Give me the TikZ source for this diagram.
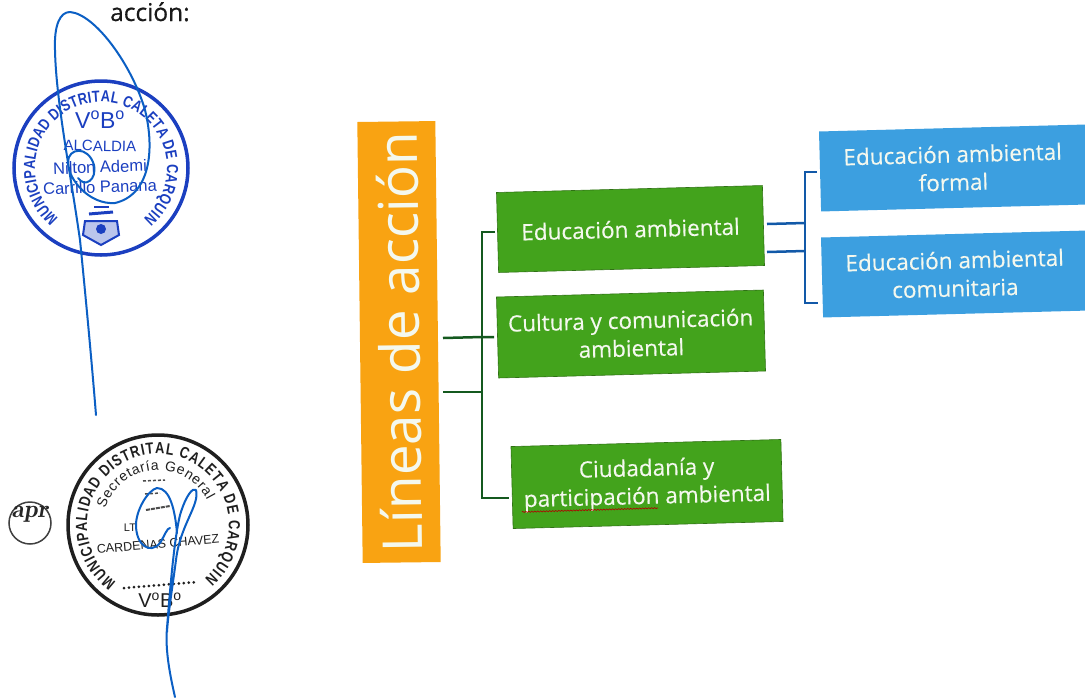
\documentclass[tikz,border=0pt]{standalone}
\usepackage{fontspec}
\setmainfont{Open Sans}
\setsansfont{Liberation Sans}
\newfontfamily\stampnarrow[FakeStretch=0.8]{Liberation Sans}
\usetikzlibrary{decorations.text,decorations.pathmorphing}
\definecolor{boxgreen}{HTML}{43A31C}
\definecolor{boxorange}{HTML}{F9A312}
\definecolor{boxblue}{HTML}{3C9FE0}
\definecolor{linkgreen}{HTML}{14591F}
\definecolor{linkblue}{HTML}{1259A8}
\definecolor{stampblue}{HTML}{1B3FC0}
\definecolor{penblue}{HTML}{0B5FC4}
\definecolor{txtwhite}{HTML}{F4F8EE}
\tikzset{
  x=1pt,y=-1pt,
  lbox/.style={inner sep=0pt,align=center,text=txtwhite,rotate=1.5,
    font=\addfontfeature{FakeBold=0.3}\fontsize{22.5}{28}\selectfont},
  greenbox/.style={lbox,fill=boxgreen,draw=boxgreen!70!black,line width=.6pt},
  bluebox/.style={lbox,fill=boxblue,text=txtwhite},
  greenlink/.style={draw=linkgreen,line width=2.5pt},
  bluelink/.style={draw=linkblue,line width=2.5pt},
  pen/.style={draw=penblue,line width=2pt,line cap=round,line join=round},
  stampone/.style={text=stampblue,font=\sffamily},
  stamptwo/.style={text=black!88,font=\sffamily},
}
\begin{document}
\begin{tikzpicture}
\useasboundingbox (0,0) rectangle (1085,697);
\clip (0,0) rectangle (1085,697);
\fill[white] (0,0) rectangle (1085,697);

% heading fragment
\node[inner sep=0pt,anchor=base west,font=\addfontfeature{FakeBold=0.6}\fontsize{24.5}{28}\selectfont,text=black!90] (head) at (110,21) {acción:};

% main boxes
\node[rotate=90.7,inner sep=0pt,fill=boxorange,minimum width=441pt,minimum height=78pt,text=txtwhite,font=\fontsize{55}{60}\selectfont] (lineas) at (399,342) {Líneas de acción};
\node[greenbox,minimum width=266pt,minimum height=80pt] (edu) at (630.5,229) {Educación ambiental};
\node[greenbox,minimum width=267pt,minimum height=81pt] (cul) at (631,334) {Cultura y comunicación\\ambiental};
\node[greenbox,minimum width=270pt,minimum height=82pt] (ciu) at (647,484) {Ciudadanía y\\participación ambiental};
\node[bluebox,minimum width=266pt,minimum height=80pt] (bf) at (953,168) {Educación ambiental\\formal};
\node[bluebox,minimum width=266pt,minimum height=80pt] (bc) at (955,274) {Educación ambiental\\comunitaria};

% red spell-check underline
\coordinate (sqa) at (522,512);
\coordinate (sqb) at (658,508);
\draw[red!70!black,line width=.6pt,decorate,decoration={zigzag,segment length=3pt,amplitude=.6pt}] (sqa) -- (sqb);

% green bracket
\coordinate (gt) at (482,232);
\coordinate (gb) at (482,498);
\coordinate (gm1) at (482,337);
\coordinate (gm2) at (482,392);
\coordinate (le1) at (443,338);
\coordinate (le2) at (443,392);
\coordinate (ge) at (495,232);
\coordinate (gc) at (494,337);
\coordinate (gi) at (509,498);
\draw[greenlink] (ge) -- (gt) -- (gb) -- (gi);
\draw[greenlink] (le1) -- (gm1) -- (gc);
\draw[greenlink] (le2) -- (gm2);

% blue bracket
\coordinate (bt) at (805,172);
\coordinate (bb) at (805,303);
\coordinate (bm1) at (805,223);
\coordinate (bm2) at (805,251);
\coordinate (ed1) at (767,224);
\coordinate (ed2) at (767,252);
\coordinate (bfe) at (817,172);
\coordinate (bce) at (818,303);
\draw[bluelink] (bfe) -- (bt) -- (bb) -- (bce);
\draw[bluelink] (ed1) -- (bm1);
\draw[bluelink] (ed2) -- (bm2);

% stamp 1
\draw[draw=stampblue,line width=3.5pt] (101,168) circle[radius=87];
\path[decorate,decoration={text along path,text align=fit to path,
  text={|\stampnarrow\bfseries\fontsize{16}{16}\selectfont\color{stampblue}|MUNICIPALIDAD DISTRITAL CALETA DE CARQUIN}}]
  (101,168) ++(130:66) arc[start angle=130,end angle=410,radius=66];
\node[stampone,font=\sffamily\fontsize{23}{23}\selectfont,inner sep=0pt] (vb1) at (100,120) {V\textsuperscript{o}B\textsuperscript{o}};
\node[stampone,font=\sffamily\fontsize{15}{15}\selectfont,inner sep=0pt,rotate=-1] (al1) at (100,146) {ALCALDIA};
\node[stampone,font=\sffamily\fontsize{16.5}{16.5}\selectfont,inner sep=0pt,rotate=2] (ni1) at (100,167) {Nilton Ademi};
\node[stampone,font=\sffamily\fontsize{16.5}{16.5}\selectfont,inner sep=0pt,rotate=2] (ca1) at (100,187) {Carrillo Panana};
% crest
\draw[draw=stampblue,line width=2pt,fill=stampblue!30] (85,221) -- (117,221) -- (119,235) -- (101,245) -- (83,235) -- cycle;
\draw[draw=stampblue,line width=3pt] (89,214) -- (113,212);
\draw[draw=stampblue,line width=2.5pt] (94,207) -- (109,207);
\fill[stampblue] (101,229) circle[radius=5];
% pen signature 1
\draw[pen] (96,415) .. controls (92,365) and (86,300) .. (80,240)
  .. controls (70,170) and (56,100) .. (55,50)
  .. controls (54,25) and (60,12) .. (70,12)
  .. controls (95,14) and (132,65) .. (145,110)
  .. controls (155,150) and (150,195) .. (115,203)
  .. controls (90,205) and (68,180) .. (68,162)
  .. controls (68,148) and (88,145) .. (94,165)
  .. controls (97,180) and (85,188) .. (78,178);

% stamp 2
\draw[draw=black!88,line width=3.5pt] (158,525) circle[radius=90];
\path[decorate,decoration={text along path,text align=fit to path,
  text={|\stampnarrow\bfseries\fontsize{16}{16}\selectfont\color{black!88}|MUNICIPALIDAD DISTRITAL CALETA DE CARQUIN}}]
  (158,525) ++(126:71) arc[start angle=126,end angle=409,radius=71];
\path[decorate,decoration={text along path,text align=fit to path,
  text={|\sffamily\fontsize{14}{14}\selectfont\color{black!88}|Secretaría General}}]
  (158,525) ++(197:55) arc[start angle=197,end angle=333,radius=55];
\node[stamptwo,font=\sffamily\fontsize{11}{11}\selectfont,inner sep=0pt] (lt2) at (130,528) {LT};
\node[stamptwo,font=\sffamily\fontsize{12.5}{12.5}\selectfont,inner sep=0pt,rotate=5] (ca2) at (158,544) {CARDENAS CHAVEZ};
\node[stamptwo,font=\sffamily\fontsize{20}{20}\selectfont,inner sep=0pt] (vb2) at (160,600) {V\textsuperscript{o}B\textsuperscript{o}};
\draw[black!88,line width=3pt,line cap=round,dash pattern=on 0pt off 5pt] (124,588) -- (197,582);
\draw[black!70,line width=1.5pt,dash pattern=on 3pt off 2pt] (143,481) -- (165,480);
\draw[black!70,line width=1.5pt,dash pattern=on 3pt off 2pt] (145,494) -- (160,493);
\draw[black!70,line width=2pt,dash pattern=on 4pt off 1pt] (146,510) -- (170,506);
% pen signature 2
\draw[pen] (175,697) .. controls (170,675) and (165,650) .. (167,628)
  .. controls (170,590) and (174,540) .. (180,515)
  .. controls (186,495) and (193,487) .. (196,490)
  .. controls (200,505) and (180,525) .. (176,560)
  .. controls (172,590) and (168,615) .. (167,632);
\draw[pen] (177,533) .. controls (175,510) and (170,488) .. (157,488)
  .. controls (148,490) and (136,510) .. (136,525)
  .. controls (136,545) and (150,555) .. (160,543)
  .. controls (165,535) and (167,528) .. (170,528);

% initials
\draw[draw=black!75,line width=1.5pt] (30,523) circle[radius=21];
\node[inner sep=0pt,font=\fontfamily{lmr}\fontsize{25}{25}\selectfont\itshape\bfseries,text=black!85] (apr) at (30,514) {apr};
\end{tikzpicture}
\end{document}
